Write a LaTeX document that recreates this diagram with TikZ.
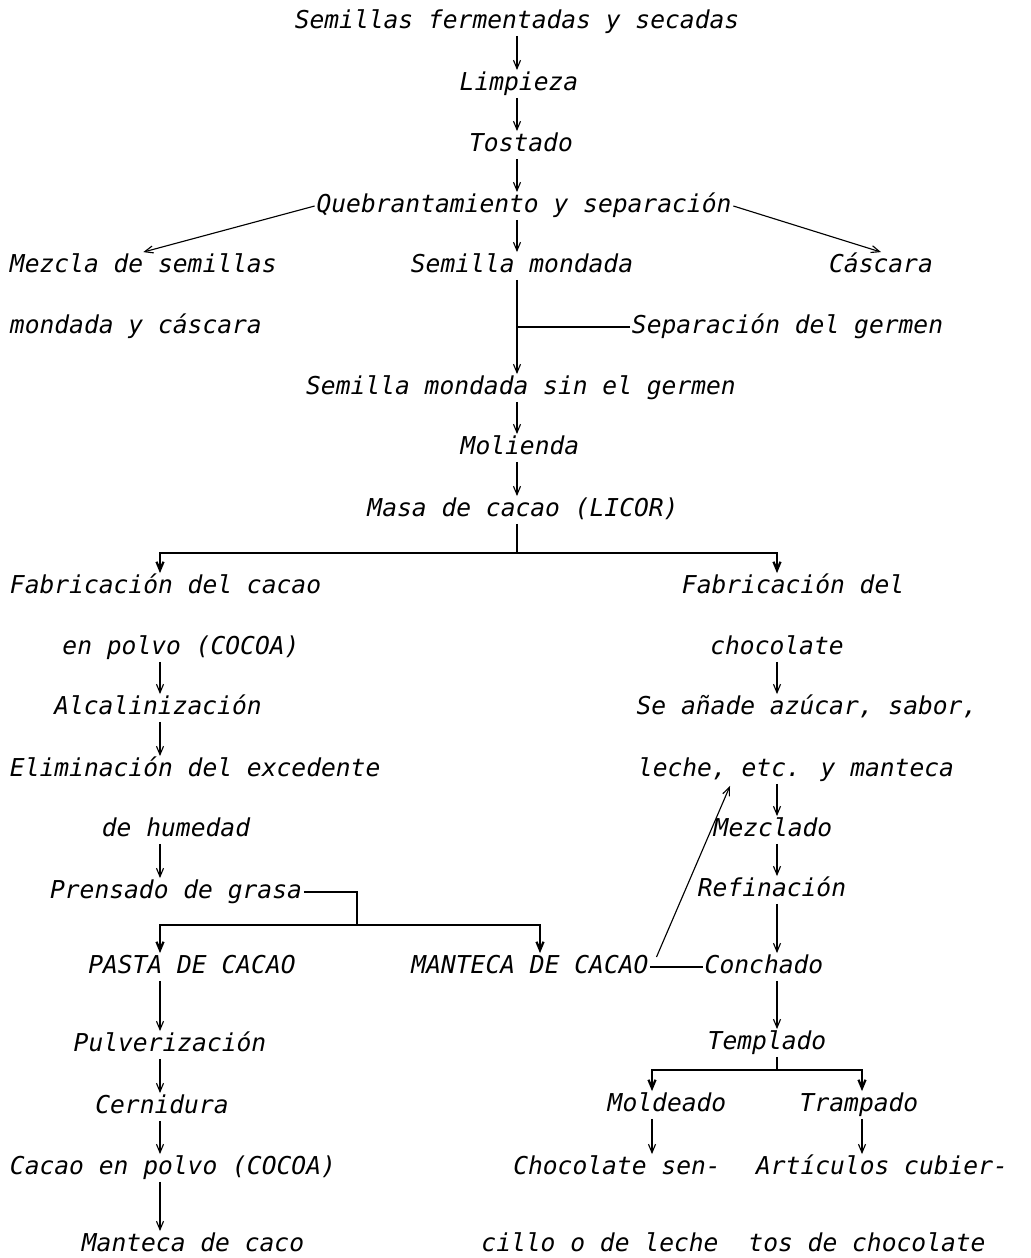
\documentclass[tikz,border=0pt]{standalone}
\usepackage{fontspec}
\newfontfamily\typefont{DejaVu Sans Mono}
\usetikzlibrary{calc,arrows.meta}
\begin{document}
\begin{tikzpicture}[
    x=0.025cm,y=-0.025cm,
    font=\typefont\itshape\fontsize{17.5}{20}\selectfont,
    line width=0.8pt
  ]
\useasboundingbox (0,0) rectangle (1031,1258);

\tikzstyle{lbl}=[inner sep=1pt,text height=13pt,text depth=4pt];
\tikzstyle{lft}=[lbl,anchor=west];
\tikzstyle{flow}=[-{Straight Barb[length=6pt,width=5pt]}];
\tikzstyle{bar}=[line width=1.6pt];

% column positions
\coordinate (cm) at (517,0);
\coordinate (cl) at (160,0);
\coordinate (cr) at (777,0);

% main trunk
\node[lbl] at (517,22) (sem) {Semillas fermentadas y secadas};
\node[lbl] at (519,84) (limp) {Limpieza};
\node[lbl] at (521,145) (tost) {Tostado};
\node[lbl] at (524,206) (queb) {Quebrantamiento y separación};
\node[lft] at (8,266) (mezcla) {Mezcla de semillas};
\node[lft] at (8,327) (mezclab) {mondada y cáscara};
\node[lbl] at (522,266) (mond) {Semilla mondada};
\node[lbl] at (881,266) (casc) {Cáscara};
\node[lft] at (630,327) (germ) {Separación del germen};
\node[lbl] at (521,388) (sing) {Semilla mondada sin el germen};
\node[lbl] at (520,448) (mol) {Molienda};
\node[lbl] at (523,510) (masa) {Masa de cacao (LICOR)};

\draw[flow] (sem.south -| cm) -- (limp.north -| cm);
\draw[flow] (limp.south -| cm) -- (tost.north -| cm);
\draw[flow] (tost.south -| cm) -- (queb.north -| cm);
\draw[flow] (queb.west) -- (mezcla.north);
\draw[flow] (queb.east) -- (casc.north);
\draw[flow] (queb.south -| cm) -- (mond.north -| cm);
\draw[flow] (mond.south -| cm) -- (sing.north -| cm);
\draw (germ.west) -- (germ.west -| cm);
\draw[flow] (sing.south -| cm) -- (mol.north -| cm);
\draw[flow] (mol.south -| cm) -- (masa.north -| cm);

% split cocoa / chocolate
\coordinate (b1) at (517,553);
\node[lft] at (8,587) (faba) {Fabricación del cacao};
\node[lbl] at (181,648) (fabb) {en polvo (COCOA)};
\node[lft] at (680,587) (fabc) {Fabricación del};
\node[lbl] at (777,648) (fabd) {chocolate};

\draw (masa.south -| cm) -- (b1);
\draw[flow,bar] (b1) -| (faba.north -| cl);
\draw[flow,bar] (b1) -| (fabc.north -| cr);

% cocoa branch
\node[lbl] at (158,708) (alc) {Alcalinización};
\node[lft] at (8,770) (elim) {Eliminación del excedente};
\node[lbl] at (176,830) (hum) {de humedad};
\node[lbl] at (176,892) (prens) {Prensado de grasa};
\node[lbl] at (192,967) (pasta) {PASTA DE CACAO};
\node[lbl] at (530,967) (mant) {MANTECA DE CACAO};
\node[lbl] at (170,1045) (pulv) {Pulverización};
\node[lbl] at (162,1107) (cern) {Cernidura};
\node[lft] at (8,1168) (polvo) {Cacao en polvo (COCOA)};
\node[lbl] at (193,1245) (mcaco) {Manteca de caco};

\draw[flow] (fabb.south -| cl) -- (alc.north -| cl);
\draw[flow] (alc.south -| cl) -- (elim.north -| cl);
\draw[flow] (hum.south -| cl) -- (prens.north -| cl);
\coordinate (b2) at (357,925);
\coordinate (cmant) at (540,0);
\draw (prens.east) -| (b2);
\draw[flow,bar] (b2) -| (pasta.north -| cl);
\draw[flow,bar] (b2) -| (mant.north -| cmant);
\draw[flow] (pasta.south -| cl) -- (pulv.north -| cl);
\draw[flow] (pulv.south -| cl) -- (cern.north -| cl);
\draw[flow] (cern.south -| cl) -- (polvo.north -| cl);
\draw[flow] (polvo.south -| cl) -- (mcaco.north -| cl);

% chocolate branch
\node[lbl] at (807,708) (anade) {Se añade azúcar, sabor,};
\node[lbl] at (796,770) (leche) {leche, etc. y manteca};
\node[lbl] at (773,830) (mezc) {Mezclado};
\node[lbl] at (772,890) (ref) {Refinación};
\node[lbl] at (764,967) (conch) {Conchado};
\node[lbl] at (767,1043) (temp) {Templado};
\node[lbl] at (667,1105) (mold) {Moldeado};
\node[lbl] at (859,1105) (tramp) {Trampado};
\node[lbl] at (617,1168) (csen) {Chocolate sen-};
\node[lbl] at (600,1245) (cillo) {cillo o de leche};
\node[lbl] at (882,1168) (artic) {Artículos cubier-};
\node[lbl] at (867,1245) (tos) {tos de chocolate};

\draw[flow] (fabd.south -| cr) -- (anade.north -| cr);
\draw[flow] (leche.south -| cr) -- (mezc.north -| cr);
\draw[flow] (mezc.south -| cr) -- (ref.north -| cr);
\draw[flow] (ref.south -| cr) -- (conch.north -| cr);
\draw (mant.east) -- (conch.west);
\draw[flow] ($(mant.east)+(6,-10)$) -- ($(leche.south)+(-66,2)$);
\draw[flow] (conch.south -| cr) -- (temp.north -| cr);

\coordinate (b3) at (777,1070);
\coordinate (cmo) at (652,0);
\coordinate (ctr) at (862,0);
\draw (temp.south -| cr) -- (b3);
\draw[flow,bar] (b3) -| (mold.north -| cmo);
\draw[flow,bar] (b3) -| (tramp.north -| ctr);
\draw[flow] (mold.south -| cmo) -- (csen.north -| cmo);
\draw[flow] (tramp.south -| ctr) -- (artic.north -| ctr);

\end{tikzpicture}
\end{document}
